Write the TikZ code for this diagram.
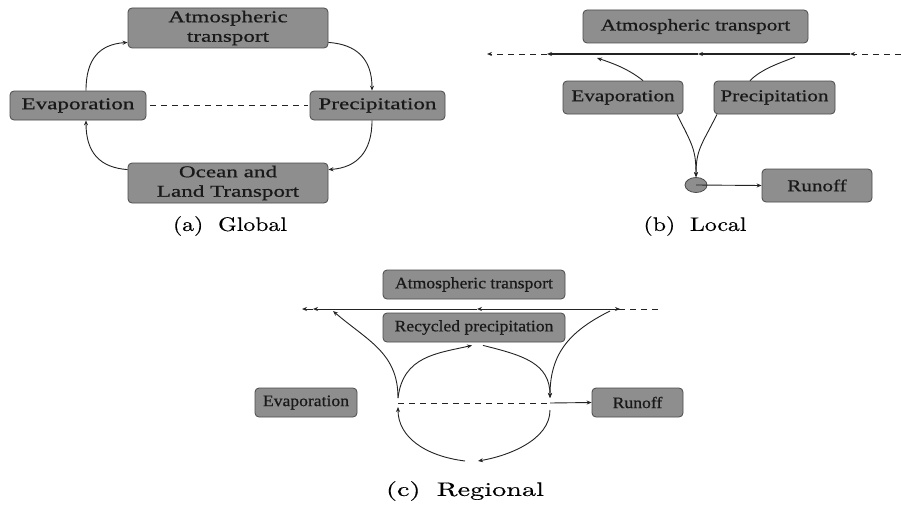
\documentclass[tikz,border=0pt]{standalone}
\usepackage{fontspec}
\usetikzlibrary{arrows.meta,shapes.geometric}
\newfontfamily\fa[FakeStretch=1.4,FakeBold=0.7]{Liberation Serif}
\newfontfamily\fb[FakeStretch=1.28,FakeBold=0.7]{Liberation Serif}
\newfontfamily\fc[FakeStretch=1.1,FakeBold=0.7]{Liberation Serif}
\newfontfamily\capfont[FakeStretch=1.22,FakeBold=0.4]{lmroman10-regular.otf}
\newfontfamily\capfontc[FakeStretch=1.45,FakeBold=0.4]{lmroman10-regular.otf}
\definecolor{boxfill}{RGB}{142,142,142}
\definecolor{boxline}{RGB}{75,75,75}
\definecolor{textc}{RGB}{25,25,25}
\definecolor{linec}{RGB}{35,35,35}
\begin{document}
\begin{tikzpicture}[x=1pt,y=-1pt,
  box/.style={draw=boxline, fill=boxfill, rounded corners=4pt, line width=0.8pt, inner sep=0pt, text=textc, align=center},
  boxa/.style={box, font=\fa\fontsize{16.5}{19.5}\selectfont},
  boxb/.style={box, font=\fb\fontsize{16.5}{19.5}\selectfont},
  boxc/.style={box, font=\fc\fontsize{16}{18.5}\selectfont},
  conn/.style={draw=linec, line width=0.9pt},
  arr/.style={conn, -{Stealth[length=5pt,width=4pt]}},
  dsh/.style={conn, dash pattern=on 6pt off 5pt},
  darr/.style={arr, dash pattern=on 6pt off 5pt},
  captxt/.style={inner sep=0pt, text=black, font=\capfont\fontsize{19.5}{22}\selectfont},
  captxtc/.style={inner sep=0pt, text=black, font=\capfontc\fontsize{19.5}{22}\selectfont}
]
\useasboundingbox (0,0) rectangle (901,511);
\fill[white] (0,0) rectangle (901,511);

% ---------- (a) Global ----------
\node[boxa, minimum width=200pt, minimum height=40pt] (A1) at (228,28) {Atmospheric\\transport};
\node[boxa, minimum width=136pt, minimum height=29pt] (E1) at (78,105.5) {Evaporation};
\node[boxa, minimum width=135pt, minimum height=29pt] (P1) at (377.5,105.5) {Precipitation};
\node[boxa, minimum width=200pt, minimum height=40pt] (O1) at (228,183) {Ocean and\\Land Transport};
\node[captxt] (capA) at (230,226) {(a)\hspace{0.35em} Global};

\draw[dsh] ([xshift=4pt]E1.east) -- ([xshift=-2pt]P1.west);
\draw[arr] ([xshift=8pt]E1.north) .. controls +(0,-32) and +(-28,2) .. ([yshift=6pt]A1.south west);
\draw[arr] ([yshift=6pt]A1.south east) .. controls +(28,2) and +(0,-32) .. ([xshift=-5.5pt]P1.north);
\draw[arr] ([xshift=-5.5pt]P1.south) .. controls +(0,32) and +(28,-2) .. ([yshift=-7pt]O1.north east);
\draw[arr] ([yshift=-7pt]O1.north west) .. controls +(-28,-2) and +(0,32) .. ([xshift=8pt]E1.south);

% ---------- (b) Local ----------
\node[boxb, minimum width=225pt, minimum height=33pt] (A2) at (695.5,26.5) {Atmospheric transport};
\node[boxb, minimum width=120pt, minimum height=33pt] (E2) at (623,97.5) {Evaporation};
\node[boxb, minimum width=121pt, minimum height=33pt] (P2) at (774.5,97.5) {Precipitation};
\node[boxb, minimum width=110pt, minimum height=33pt] (R2) at (817,185.5) {Runoff};
\node[ellipse, draw=boxline, fill=boxfill, line width=0.8pt, minimum width=22pt, minimum height=15pt, inner sep=0pt] (C2) at (696,185) {};
\node[captxt] (capB) at (695,226) {(b)\hspace{0.35em} Local};

\coordinate (b0) at (901,54);
\coordinate (b1) at (850,54);
\coordinate (bm) at (698,54);
\coordinate (b2) at (547,54);
\coordinate (b3) at (487,54);
\coordinate (be) at (597,58);
\coordinate (bp) at (795,57);
\draw[darr] (b0) -- (b1);
\draw[arr, line width=1.2pt] (b1) -- (bm);
\draw[arr, line width=1.2pt] (bm) -- (b2);
\draw[darr] (b2) -- (b3);
\draw[arr] ([xshift=20pt]E2.north) .. controls +(-15,-12) and +(15,5) .. (be);
\draw[conn] ([xshift=-24.5pt]P2.north) .. controls +(12,-12) and +(-15,6) .. (bp);
\draw[arr] ([xshift=54pt]E2.south) .. controls +(15,30) and +(0,-28) .. (C2.north);
\draw[arr] ([xshift=-57.5pt]P2.south) .. controls +(-15,30) and +(0,-28) .. (C2.north);
\draw[arr] (C2.center) -- (R2.west);

% ---------- (c) Regional ----------
\node[boxc, minimum width=182pt, minimum height=29pt] (A3) at (474,284.5) {Atmospheric transport};
\node[boxc, minimum width=182pt, minimum height=29pt] (R3) at (474,327.5) {Recycled precipitation};
\node[boxc, minimum width=102pt, minimum height=29pt] (E3) at (306,402.5) {Evaporation};
\node[boxc, minimum width=91pt, minimum height=29pt] (U3) at (637.5,402.5) {Runoff};
\node[captxtc] (capC) at (465,491) {(c)\hspace{0.35em} Regional};

\coordinate (c0) at (658,309);
\coordinate (c1) at (620,309);
\coordinate (cm) at (477,309);
\coordinate (cl) at (313,309);
\coordinate (c3) at (302,309);
\coordinate (cla) at (333,311);
\coordinate (crs) at (610,311);
\coordinate (jl) at (398,403);
\coordinate (jr) at (550,403);
\coordinate (cb1) at (478,461);
\coordinate (cb2) at (465,461);
\draw[dsh] (c0) -- (c1);
\draw[arr] ([xshift=-3pt]c1) -- (c1);
\draw[arr] (c1) -- (cm);
\draw[arr] (cm) -- (cl);
\draw[arr] (cl) -- (c3);
\draw[dsh] (jl) -- (jr);
\draw[arr] (jr) -- (U3.west);
\draw[arr] ([yshift=5pt]jl) .. controls +(0,-45) and +(35,30) .. (cla);
\draw[arr] ([yshift=5pt]jl) .. controls +(5,-42) and +(-35,8) .. ([xshift=-2pt,yshift=-3pt]R3.south);
\draw[arr] ([xshift=9pt,yshift=-3pt]R3.south) .. controls +(40,10) and +(0,-35) .. ([yshift=5pt]jr);
\draw[arr] (crs) .. controls +(-40,20) and +(0,-45) .. ([yshift=5pt]jr);
\draw[arr] ([yshift=-7pt]jr) .. controls +(0,30) and +(30,-5) .. (cb1);
\draw[arr] (cb2) .. controls +(-40,-5) and +(0,30) .. ([yshift=-4pt]jl);
\end{tikzpicture}
\end{document}
